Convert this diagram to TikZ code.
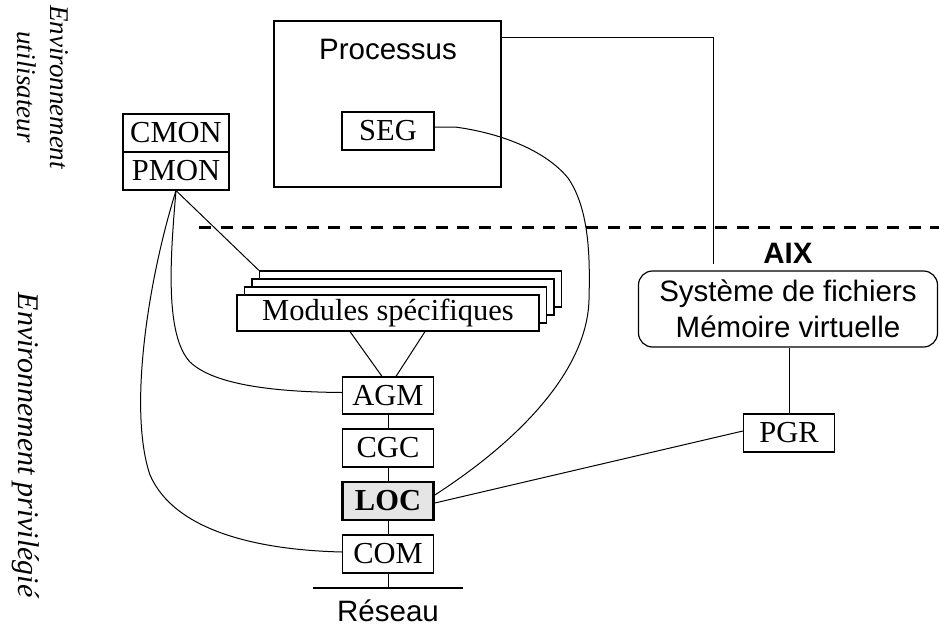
\documentclass[tikz,border=0pt]{standalone}
\usepackage{fontspec}
\setmainfont{Liberation Serif}
\setsansfont{Liberation Sans}
\usetikzlibrary{calc}
\begin{document}
\begin{tikzpicture}[x=1pt,y=-1pt,
  conn/.style={line width=1pt},
  serifbox/.style={draw, line width=1.2pt, fill=white, inner sep=0pt, minimum width=91, minimum height=38, font=\fontsize{30.5}{31}\selectfont},
  sanstext/.style={inner sep=0pt, font=\sffamily\fontsize{29.5}{30}\selectfont},
  lefttext/.style={inner sep=0pt, rotate=-90, align=center, font=\itshape\fontsize{27}{33}\selectfont}
]
\useasboundingbox (0,0) rectangle (939,629);

% left labels
\node[lefttext] (envu) at (43,87) {Environnement\\utilisateur};
\node[lefttext, font=\itshape\fontsize{30}{33}\selectfont] (envp) at (26,445) {Environnement privilégié};

% dashed separation
\coordinate (dashL) at (199,227);
\coordinate (dashR) at (939,227);
\draw[line width=3pt, dash pattern=on 12pt off 9.5pt] (dashL) -- (dashR);

% process
\node[draw, line width=1.2pt, minimum width=227, minimum height=166, inner sep=0pt] (proc) at (387.5,104) {};
\node[sanstext, anchor=base] (proctxt) at (388,59) {Processus};
\node[serifbox, minimum width=92] (seg) at (388,131) {SEG};

% monitors
\node[serifbox, minimum width=106] (cmon) at (176,133) {CMON};
\node[serifbox, minimum width=106] (pmon) at (176,171) {PMON};

% modules stack
\node[draw, line width=1.2pt, fill=white, minimum width=302, minimum height=36, inner sep=0pt] (m3) at (410.5,289) {};
\node[draw, line width=1.2pt, fill=white, minimum width=302, minimum height=36, inner sep=0pt] (m2) at (403,297) {};
\node[draw, line width=1.2pt, fill=white, minimum width=302, minimum height=36, inner sep=0pt] (m1) at (395.5,305) {};
\node[serifbox, minimum width=302, minimum height=36] (mod) at (388,313) {Modules spécifiques};

% kernel stack
\node[serifbox, minimum height=37] (agm) at (388,395.5) {AGM};
\node[serifbox] (cgc) at (388,448) {CGC};
\node[serifbox, line width=2.6pt, fill=black!10, font=\bfseries\fontsize{30.5}{31}\selectfont] (loc) at (388,501) {LOC};
\node[serifbox] (com) at (388,554) {COM};

% network
\coordinate (net1) at (313,588);
\coordinate (net2) at (463,588);
\draw[line width=1.2pt] (net1) -- (net2);
\node[sanstext, anchor=base] (reseau) at (388,621) {Réseau};

% AIX
\node[sanstext, anchor=base, font=\sffamily\bfseries\fontsize{29.5}{30}\selectfont] (aix) at (788,263) {AIX};
\node[draw, line width=1.2pt, rounded corners=14pt, minimum width=299, minimum height=76, inner sep=0pt, align=center, font=\sffamily\fontsize{29.5}{36}\selectfont] (fs) at (788,309) {Système de fichiers\\Mémoire virtuelle};
\node[serifbox] (pgr) at (789,433) {PGR};
\coordinate (aixtop) at (713,264);

% connectors
\draw[conn] ($(proc.north east)!0.104!(proc.south east)$) -| (aixtop);
\draw[conn] ($(seg.east)+(0,-4)$) -- (455,127) .. controls (500,133) and (545,150) .. (568,178)
   .. controls (590,210) and (590,260) .. (589,300)
   .. controls (587,370) and (520,440) .. ($(loc.east)+(0,-6)$);
\draw[conn] (pmon.south) -- (m3.north west);
\draw[conn] (pmon.south) .. controls (170,260) and (165,335) .. (190,362)
   .. controls (215,386) and (280,392) .. ($(agm.west)+(0,-3)$);
\draw[conn] (pmon.south) .. controls (148,280) and (128,410) .. (150,475)
   .. controls (175,532) and (260,550) .. ($(com.west)+(0,-2)$);
\draw[conn] ($(mod.south)+(-38,0)$) -- ($(agm.north)+(-6,0)$);
\draw[conn] ($(mod.south)+(37,0)$) -- ($(agm.north)+(8,0)$);
\draw[conn] (agm) -- (cgc);
\draw[conn] (cgc) -- (loc);
\draw[conn] (loc) -- (com);
\draw[conn] (com.south) -- (com.south |- net1);
\draw[conn] (fs.south -| pgr.north) -- (pgr.north);
\draw[conn] ($(pgr.west)+(0,-2)$) -- ($(loc.east)+(0,2)$);
\end{tikzpicture}
\end{document}
